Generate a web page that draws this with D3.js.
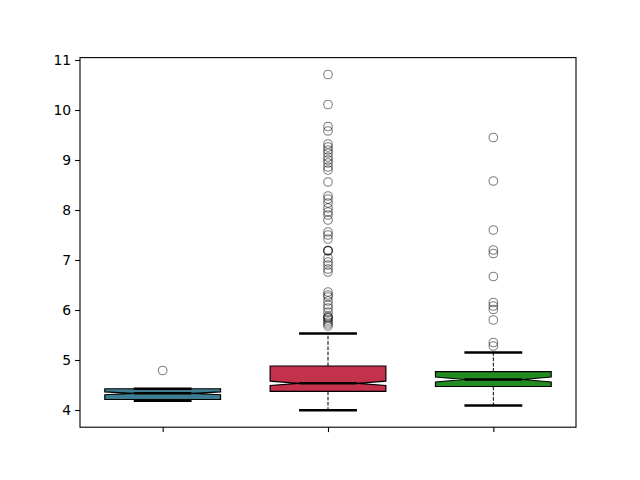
<!DOCTYPE html>
<html><head><meta charset="utf-8">
<script src="https://cdn.jsdelivr.net/npm/d3@7"></script>
<style>body{margin:0;background:#fff}svg{display:block}</style>
</head><body>
<svg id="c" width="640" height="480"></svg>
<script>
const categories = [1, 2, 3];
const q1Values = [4.21, 4.374, 4.47];
const medianValues = [4.334, 4.534, 4.61];
const q3Values = [4.425, 4.88, 4.766];
const notchLowValues = [4.306, 4.49, 4.56];
const notchHighValues = [4.362, 4.578, 4.66];
const whiskerLowValues = [4.186, 3.995, 4.09];
const whiskerHighValues = [4.425, 5.53, 5.15];
const boxColors = ["#3e7c91", "#c4314b", "#228b22"];
const outliers1 = [4.79];
const outliers2 = [10.71, 10.11, 9.67, 9.58, 9.32, 9.26, 9.20, 9.14, 9.06, 9.00, 8.94, 8.86, 8.80, 8.56,
  8.28, 8.22, 8.14, 8.04, 7.96, 7.90, 7.80, 7.56, 7.50, 7.42, 7.19, 7.19, 7.18, 7.04, 6.96, 6.90, 6.82, 6.76,
  6.36, 6.30, 6.26, 6.18, 6.10, 6.04, 5.96, 5.88, 5.85, 5.84, 5.80, 5.76, 5.72, 5.68];
const outliers3 = [9.45, 8.58, 7.60, 7.20, 7.13, 6.67, 6.15, 6.08, 6.01, 5.80, 5.35, 5.28];
const outlierSets = [outliers1, outliers2, outliers3];
const yTicks = [4, 5, 6, 7, 8, 9, 10, 11];

const svg = d3.select("#c");
const L = 80, R = 576, T = 57.6, B = 427.2;
const x = d3.scaleLinear().domain([0.5, 3.5]).range([L, R]);
const y = d3.scaleLinear().domain([3.656, 11.048]).range([B, T]);
const bw = 0.7;

const g = svg.append("g");
categories.forEach((c, i) => {
  const l = x(c - bw / 2), r = x(c + bw / 2);
  const cl = x(c - bw / 4), cr = x(c + bw / 4);
  const capL = x(c - bw / 4), capR = x(c + bw / 4);
  // whiskers
  g.append("line").attr("x1", x(c)).attr("x2", x(c)).attr("y1", y(q3Values[i])).attr("y2", y(whiskerHighValues[i]))
    .attr("stroke", "#000").attr("stroke-width", 1).attr("stroke-dasharray", "3.7,1.6");
  g.append("line").attr("x1", x(c)).attr("x2", x(c)).attr("y1", y(q1Values[i])).attr("y2", y(whiskerLowValues[i]))
    .attr("stroke", "#000").attr("stroke-width", 1).attr("stroke-dasharray", "3.7,1.6");
  // notched box
  const pts = [
    [l, y(q1Values[i])], [l, y(notchLowValues[i])], [cl, y(medianValues[i])], [l, y(notchHighValues[i])],
    [l, y(q3Values[i])], [r, y(q3Values[i])], [r, y(notchHighValues[i])], [cr, y(medianValues[i])],
    [r, y(notchLowValues[i])], [r, y(q1Values[i])]
  ];
  g.append("path").attr("d", d3.line()(pts) + "Z").attr("fill", boxColors[i])
    .attr("stroke", "#000").attr("stroke-width", 1.2).attr("stroke-linejoin", "miter");
  // caps
  [whiskerLowValues[i], whiskerHighValues[i]].forEach(v => {
    g.append("line").attr("x1", capL).attr("x2", capR).attr("y1", y(v)).attr("y2", y(v))
      .attr("stroke", "#000").attr("stroke-width", 2.5);
  });
  // median
  g.append("line").attr("x1", cl).attr("x2", cr).attr("y1", y(medianValues[i])).attr("y2", y(medianValues[i]))
    .attr("stroke", "#000").attr("stroke-width", 2.5);
  // outliers
  g.selectAll(null).data(outlierSets[i]).enter().append("circle")
    .attr("cx", x(c)).attr("cy", d => y(d)).attr("r", 4.3)
    .attr("fill", "none").attr("stroke", "#000").attr("stroke-opacity", 0.5).attr("stroke-width", 1.1);
});

// axes
const yAxis = d3.axisLeft(y).tickValues(yTicks).tickSize(4.9).tickPadding(4).tickFormat(d3.format("d"));
const ya = svg.append("g").attr("transform", `translate(${L},0)`).call(yAxis);
ya.select(".domain").remove();
ya.selectAll("text").attr("font-family", "DejaVu Sans").attr("font-size", 13.9).attr("fill", "#000");
ya.selectAll("line").attr("stroke", "#000").attr("stroke-width", 1.1);
const xAxis = d3.axisBottom(x).tickValues(categories).tickSize(4.9).tickFormat(() => "");
const xa = svg.append("g").attr("transform", `translate(0,${B})`).call(xAxis);
xa.select(".domain").remove();
xa.selectAll("line").attr("stroke", "#000").attr("stroke-width", 1.1);
svg.append("rect").attr("x", L).attr("y", T).attr("width", R - L).attr("height", B - T)
  .attr("fill", "none").attr("stroke", "#000").attr("stroke-width", 1.1);
</script>
</body></html>
